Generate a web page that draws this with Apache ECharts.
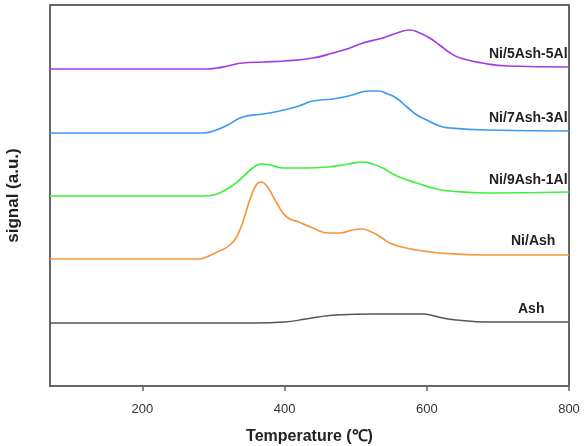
<!DOCTYPE html>
<html><head><meta charset="utf-8">
<script src="https://cdn.jsdelivr.net/npm/echarts@6/dist/echarts.min.js"></script>
<style>html,body{margin:0;padding:0;background:#fff}#c{width:586px;height:446px}</style>
</head><body><div id="c"></div>
<script>
const xTicks = [200, 400, 600, 800];
const seriesNames = ['Ni/5Ash-5Al', 'Ni/7Ash-3Al', 'Ni/9Ash-1Al', 'Ni/Ash', 'Ash'];

const tempNi5 = [70,290,305,320,341,370,399,440,468,492,510,538,558,576,590,604,618,633,647,678,714,800];
const sigNi5  = [317,317,318,320,323,324,325,328,333,338,343,348,353,356,353,348,341,333,328,323,320,319];

const tempNi7 = [70,285,300,320,341,370,393,420,440,468,490,520,532,545,557,572,586,600,618,633,683,800];
const sigNi7  = [253,253,255,261,269,272,275,280,285,287,290,295,295,292,288,279,271,266,260,258,256,255];

const tempNi9 = [70,285,300,319,335,347,357,367,380,398,430,460,490,510,524,538,558,586,614,633,683,800];
const sigNi9  = [190,190,191,197,205,213,219,222,221,218,218,219,222,224,222,218,210,203,197,195,193,194];

const tempNiAsh = [70,280,290,305,323,337,351,360,367,375,389,403,420,440,462,478,495,508,522,535,548,565,586,618,683,800];
const sigNiAsh  = [127,127,129,134,141,156,186,201,204,200,183,169,164,158,153,153,156,157,154,149,143,139,136,133,131,131];

const tempAsh = [70,360,399,430,447,472,526,595,605,616,630,642,683,800];
const sigAsh  = [63,63,64,67,69,71,72,72,71,69,67,66,64,64];

const colors = ['#a23ae6', '#3d9af0', '#3ff03f', '#f7963c', '#555555'];
const temps = [tempNi5, tempNi7, tempNi9, tempNiAsh, tempAsh];
const sigs = [sigNi5, sigNi7, sigNi9, sigNiAsh, sigAsh];

const series = seriesNames.map((n, i) => ({
  name: n, type: 'line', smooth: 0.5, symbol: 'none',
  lineStyle: { color: colors[i], width: i === 4 ? 1.4 : 1.7 },
  data: temps[i].map((t, j) => [t, sigs[i][j]])
}));

const labelPos = [[489, 54], [489, 118], [489, 180], [511, 241], [518, 309]];
const font = 'bold 14px "Liberation Sans", Arial, sans-serif';
const elements = seriesNames.map((n, i) => ({
  type: 'text', x: labelPos[i][0], y: labelPos[i][1], z: 10,
  style: { text: n, font: font, fill: '#222', align: 'left', verticalAlign: 'middle' }
}));
elements.push({ type: 'rect', z: 11, shape: { x: 571, y: 0, width: 20, height: 390 }, style: { fill: '#fff' } });

const chart = echarts.init(document.getElementById('c'));
chart.setOption({
  animation: false,
  grid: { left: 50, right: 17, top: 5, bottom: 60, show: true, borderColor: '#666', borderWidth: 2, outerBoundsMode: 'none', containLabel: false },
  xAxis: {
    type: 'value', min: 70, max: 800,
    name: 'Temperature (℃)', nameLocation: 'middle', nameGap: 43,
    nameTextStyle: { fontFamily: '"Liberation Sans", Arial, sans-serif', fontWeight: 'bold', fontSize: 16, color: '#222' },
    axisLine: { show: true, lineStyle: { color: '#666', width: 2 } },
    axisTick: { show: true, length: 5, customValues: xTicks, lineStyle: { color: '#666', width: 1.5 } },
    axisLabel: { customValues: xTicks, margin: 17, fontSize: 13, color: '#333', fontFamily: '"Liberation Sans", Arial, sans-serif' },
    splitLine: { show: false }
  },
  yAxis: {
    type: 'value', min: 0, max: 381,
    name: 'signal (a.u.)', nameLocation: 'middle', nameGap: 28,
    nameTextStyle: { fontFamily: '"Liberation Sans", Arial, sans-serif', fontWeight: 'bold', fontSize: 17, color: '#222' },
    axisLine: { show: false }, axisTick: { show: false }, axisLabel: { show: false }, splitLine: { show: false }
  },
  graphic: { elements: elements },
  series: series
});
</script></body></html>
